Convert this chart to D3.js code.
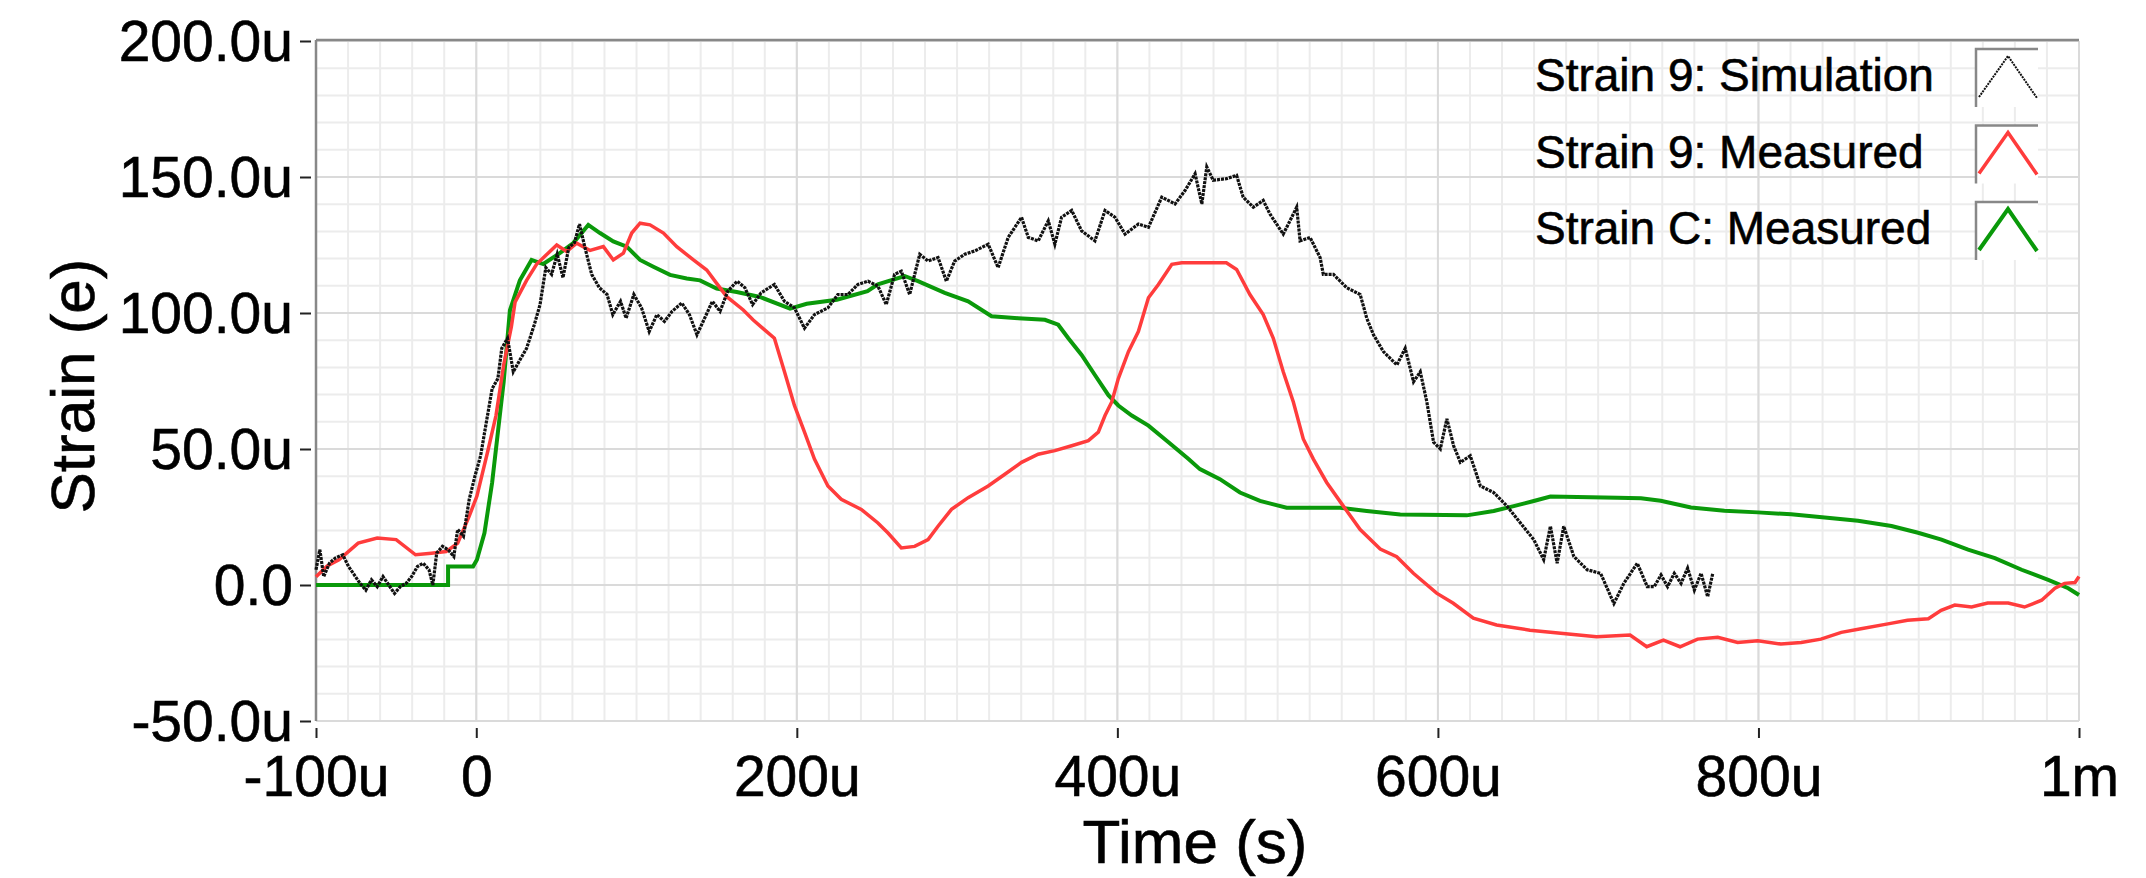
<!DOCTYPE html>
<html>
<head>
<meta charset="utf-8">
<script src="https://cdn.jsdelivr.net/npm/d3@7"></script>
<style>
  body { margin: 0; background: #fff; }
  text { font-family: "Liberation Sans", Arial, Helvetica, sans-serif; fill: #000; stroke: #000; stroke-width: 0.6px; }
</style>
</head>
<body>
<div id="chart"></div>
<script>
// Time in microseconds, strain in microstrain
var xTickValues = [-100, 0, 200, 400, 600, 800, 1000];
var xTickLabels = ["-100u", "0", "200u", "400u", "600u", "800u", "1m"];
var yTickValues = [-50, 0, 50, 100, 150, 200];
var yTickLabels = ["-50.0u", "0.0", "50.0u", "100.0u", "150.0u", "200.0u"];

var seriesNames = ["Strain 9: Simulation", "Strain 9: Measured", "Strain C: Measured"];

var strain9Sim = [
  [-100,5.6],[-97.6,13],[-95.2,3.1],[-91.6,8],[-88,9.9],[-83.3,11.1],[-79.7,6.8],[-76.1,3.7],[-72.5,0.6],[-68.9,-1.9],
  [-65.4,1.9],[-61.8,-0.6],[-58.2,3.1],[-54.6,0],[-51,-3.1],[-47.4,-0.6],[-43.8,0.6],[-40.3,3.1],[-36.7,6.8],[-33.1,8],
  [-29.5,5.6],[-27.1,0],[-24.7,11.7],[-21.1,14.2],[-17.6,13],[-14,10.5],[-11.6,20.4],[-8,17.9],[-4.4,31.5],[-0.8,40.1],
  [2.7,47.5],[6.3,59.9],[9.9,72.2],[13.5,75.9],[15.9,87],[19.5,90.7],[23.1,78.4],[26.6,82.1],[31.4,87],[36.2,95.7],
  [39.8,103.1],[43.4,116.7],[47,114.2],[50.5,121.6],[54.1,113],[57.7,124],[61.3,125.9],[64.4,132.7],[67.3,125.3],[72,114.2],
  [76.8,109.3],[81.6,106.8],[85.2,99.4],[90,104.3],[93.5,98.1],[98.3,106.8],[103.1,101.9],[107.9,93.2],[112.7,99.4],[117.4,96.9],
  [122.2,100.6],[128.2,103.7],[133,99.4],[137.7,92],[142.5,98.1],[147.3,104.3],[152.1,100.6],[156.9,108],[162.8,111.7],[167.6,109.3],
  [172.4,103.1],[177.7,107.4],[186,110.5],[192.3,104.3],[198.5,101.9],[204.8,94.4],[211,99.4],[219.4,101.9],[225.6,106.8],[231.9,106.8],
  [238.1,110.5],[244.4,111.7],[250.6,109.9],[255.8,103.1],[261,114.2],[265.2,115.4],[270.4,106.8],[276.7,121.6],[281.9,119.1],[288.1,120.4],
  [293.3,111.7],[298.5,119.1],[304.8,121.6],[311,122.8],[319.4,125.3],[325.6,116.7],[331.9,127.8],[340.2,135.2],[344.4,127.8],[350.6,126.5],
  [356.9,133.9],[361,125.3],[365.2,135.2],[371.5,137.7],[377.7,130.2],[386,126.5],[392.3,137.7],[398.5,135.2],[404.8,129],[413.1,132.7],
  [419.4,131.5],[427.7,142.6],[436,140.1],[442.3,145.1],[448.5,151.2],[452.7,140.1],[455.8,153.7],[459.8,148.8],[468.1,149.4],[474.4,150.6],
  [478.5,142.6],[484.8,138.9],[491,141.4],[495.2,136.4],[503.5,129],[507.7,133.9],[511.9,138.9],[514,126.5],[520.2,127.8],[526.5,120.4],
  [528.5,114.2],[534.8,114.2],[543.1,109.3],[551.5,106.8],[555.6,98.1],[559.8,92],[566,85.8],[574.4,80.9],[579.6,87],[584.8,74.7],
  [589,78.4],[593.1,67.3],[597.3,52.5],[601.5,50],[605.6,61.1],[609.8,51.2],[614,45.1],[620.2,47.5],[626.5,36.4],[634.8,34],
  [643.1,29],[651.5,22.8],[659.8,16.7],[666,9.3],[670.2,21.6],[674.4,8],[678.5,21.6],[684.8,10.5],[693.1,5.6],[701.5,4.3],
  [709.8,-6.8],[716,0.6],[724.4,8],[730.6,-0.6],[735,-0.6],[739.2,3.7],[743.3,-0.6],[747.5,4.3],[751.7,0.6],[755.8,6.2],
  [760,-1.9],[764.2,4.3],[768.3,-4.3],[771.5,4.3]
];

var strain9Meas = [
  [-100,3],[-93,7],[-85.7,9.3],[-73.7,15.4],[-61.8,17.3],[-50,16.7],[-37.9,11.1],[-28,11.7],[-18.8,12.3],[-11.6,15.4],
  [-4.4,25.3],[0.4,32.7],[7.5,50],[12.3,62.3],[17.1,80.9],[21.9,95],[24.2,104],[31.4,112],[37.7,118],[50.2,125],
  [56.4,122.6],[62.6,125.7],[71,123],[79.3,124.4],[85.5,119.5],[91.8,122],[97,129.4],[102.2,133],[108.4,132.4],[116.8,129.4],
  [125.1,124.4],[135.5,119.5],[143.8,115.8],[150,110.9],[156.3,106],[166.6,101.1],[172.8,97.4],[186,90.7],[192.3,78.4],[198.5,66],
  [204.8,56.2],[211,46.3],[219.4,36.4],
  [227.7,31.5],[240.2,27.8],[250.6,22.8],[256.9,19.1],[265.2,13.6],[273.5,14.2],[281.9,16.7],[288.1,21.6],[296.5,27.8],[306.9,32.1],
  [319.4,36.4],[329.8,40.7],[340.2,45.1],[350.6,48.1],[361,49.4],[371.5,51.2],[381.9,53.1],[388.1,56.2],[392.3,62.3],[396.5,67.3],
  [400.6,75.9],[406.9,85.8],[413.1,93.2],[419.4,105.6],[425.6,110.5],[434,117.9],[440.2,118.5],[468,118.5],[474.4,116],[482.7,106.8],
  [491,99.4],[497.3,90.7],[503.5,78.4],[509.8,67.3],[516,53.7],[522.3,46.3],[530.6,37.7],[541,29],[551.5,20.4],[564,13.2],
  [574.3,10.4],[584.7,4.3],[599.2,-3],[609.6,-6.7],[622.1,-12.2],[636.6,-14.7],[657.4,-16.6],[678.2,-17.8],[699,-19],[719.9,-18.4],
  [730.3,-22.7],[740.7,-20.3],[751.1,-22.7],[762,-19.9],[774.6,-19.2],[787,-21.1],[799.6,-20.5],[814,-21.7],[826.7,-21.1],[839,-19.9],
  [851.7,-17.4],[864,-16.1],[880.8,-14.3],[893,-13],[906,-12.4],[914,-9.3],[922.5,-7.4],[933,-8.1],[943,-6.6],[955.8,-6.6],
  [966,-8.1],[976.7,-5.6],[985,-1.2],[991,0.6],[997.5,0.9],[1000,3.1]
];

var strainCMeas = [
  [-100,0],[-17.6,0],[-17.6,6.8],[-2,6.8],[0.4,9.3],[5.1,19.1],[9.9,37.7],[13.5,56.2],[17.1,74.7],[21,101],
  [27.2,112],[34.5,119.5],[41.8,118],[52.1,122],[60.5,125.7],[69.9,132.4],[77.2,129.4],[85.5,126.3],[93.9,124.4],[102.2,119.5],
  [110.5,117],[120.9,114],[131.3,112.7],[139.6,112],[150,109],[162.5,107.7],[177,105.9],[195.8,101.6],[206.2,103.4],
  [225,104.9],[244.1,108],[250.6,110.5],[267.3,113.6],[275.6,111.7],[292.3,107.4],[306.9,104.3],[321.5,98.8],[338.1,98.1],[354.8,97.5],
  [363.1,95.7],[369.4,90.7],[377.7,84.6],[386,77.2],[394.4,69.8],[400.6,66],[409,62.3],[419.4,58.6],[431.9,52.5],[444.4,46.3],
  [451.5,42.6],[464,38.9],[476.5,34],[489,30.9],[505.6,28.4],[539,28.4],[555.6,27.2],[576.5,25.9],[618,25.6],[634.8,27.2],
  [647.3,29],[659.8,30.9],[670.2,32.5],[711.9,32.1],[726.7,31.9],[739,31],[757.9,28.5],[778.8,27.3],[799.6,26.7],[820.4,26],
  [841.3,24.8],[862.1,23.6],[883,21.7],[899.6,19.2],[914.2,16.7],[930.8,13],[947.5,9.9],[964.2,5.6],[980.8,1.9],[993.3,-1.2],
  [1000,-3.7]
];

var width = 2146, height = 878;
var plotLeft = 316, plotRight = 2079, plotTop = 41, plotBottom = 721;

var svg = d3.select("#chart").append("svg")
    .attr("width", width)
    .attr("height", height);

svg.append("rect").attr("width", width).attr("height", height).attr("fill", "#fff");

var x = d3.scaleLinear().domain([-100, 1000]).range([plotLeft, plotRight]);
var y = d3.scaleLinear().domain([-50, 200]).range([plotBottom, plotTop]);

// minor grid
svg.append("g").selectAll("line")
    .data(d3.range(-100, 1001, 20))
    .enter().append("line")
    .attr("x1", d => x(d)).attr("x2", d => x(d))
    .attr("y1", plotTop).attr("y2", plotBottom)
    .attr("stroke", "#ececec").attr("stroke-width", 2);

svg.append("g").selectAll("line")
    .data(d3.range(-50, 201, 10))
    .enter().append("line")
    .attr("x1", plotLeft).attr("x2", plotRight)
    .attr("y1", d => y(d)).attr("y2", d => y(d))
    .attr("stroke", "#ececec").attr("stroke-width", 2);

// major grid
svg.append("g").selectAll("line")
    .data(xTickValues)
    .enter().append("line")
    .attr("x1", d => x(d)).attr("x2", d => x(d))
    .attr("y1", plotTop).attr("y2", plotBottom)
    .attr("stroke", "#dadada").attr("stroke-width", 2);

svg.append("g").selectAll("line")
    .data(yTickValues)
    .enter().append("line")
    .attr("x1", plotLeft).attr("x2", plotRight)
    .attr("y1", d => y(d)).attr("y2", d => y(d))
    .attr("stroke", "#dadada").attr("stroke-width", 2);

// frame: only left and top edges are drawn
svg.append("line").attr("x1", plotLeft).attr("x2", plotLeft).attr("y1", plotTop - 1).attr("y2", plotBottom)
    .attr("stroke", "#888").attr("stroke-width", 2.5);
svg.append("line").attr("x1", plotLeft).attr("x2", plotRight).attr("y1", plotTop - 1).attr("y2", plotTop - 1)
    .attr("stroke", "#888").attr("stroke-width", 2.5);

// axes
var xAxis = d3.axisBottom(x)
    .tickValues(xTickValues)
    .tickFormat((d, i) => xTickLabels[i])
    .tickSize(10).tickPadding(18);

var yAxis = d3.axisLeft(y)
    .tickValues(yTickValues)
    .tickFormat((d, i) => yTickLabels[i])
    .tickSize(11).tickPadding(7);

var gx = svg.append("g").attr("transform", "translate(0," + (plotBottom + 7) + ")").call(xAxis);
var gy = svg.append("g").attr("transform", "translate(" + (plotLeft - 5) + ",0)").call(yAxis);

[gx, gy].forEach(function(g) {
    g.select(".domain").remove();
    g.selectAll(".tick line").attr("stroke", "#222").attr("stroke-width", 2);
    g.selectAll("text")
        .style("font-family", "'Liberation Sans', Arial, sans-serif")
        .style("font-size", "57px")
        .attr("fill", "#000");
});
gx.selectAll("text").attr("dy", "0.71em");
gy.selectAll("text").attr("dy", "0.35em");

// axis titles
svg.append("text")
    .attr("x", 1195).attr("y", 863)
    .attr("text-anchor", "middle")
    .style("font-size", "62px")
    .text("Time (s)");

svg.append("text")
    .attr("transform", "translate(94,386) rotate(-90)")
    .attr("text-anchor", "middle")
    .style("font-size", "62px")
    .text("Strain (e)");

// series
var line = d3.line().x(d => x(d[0])).y(d => y(d[1]));

var plot = svg.append("g");
plot.append("path").datum(strainCMeas)
    .attr("d", line).attr("fill", "none")
    .attr("stroke", "#0a990a").attr("stroke-width", 4);
plot.append("path").datum(strain9Meas)
    .attr("d", line).attr("fill", "none")
    .attr("stroke", "#ff3c3c").attr("stroke-width", 3.5);
plot.append("path").datum(strain9Sim)
    .attr("d", line).attr("fill", "none")
    .attr("stroke", "#111").attr("stroke-width", 3.2)
    .attr("stroke-dasharray", "3,1");

// legend
var legendColors = ["#111", "#ff3c3c", "#0a990a"];
var legendDash = ["2,1", null, null];
var legendWidths = [2, 3.5, 4];
var legend = svg.append("g");

seriesNames.forEach(function(name, i) {
    var rowTop = 49 + i * 76.5;
    legend.append("text")
        .attr("x", 1535).attr("y", rowTop + 42)
        .style("font-size", "46px")
        .text(name);

    var box = legend.append("g").attr("transform", "translate(1976," + rowTop + ")");
    box.append("rect").attr("width", 62).attr("height", 58).attr("fill", "#fff");
    box.append("path").attr("d", "M0,58V0H62")
        .attr("fill", "none").attr("stroke", "#888").attr("stroke-width", 2.5);
    box.append("path").attr("d", "M3,48L32,7L61,49")
        .attr("fill", "none")
        .attr("stroke", legendColors[i])
        .attr("stroke-width", legendWidths[i])
        .attr("stroke-dasharray", legendDash[i]);
});
</script>
</body>
</html>
